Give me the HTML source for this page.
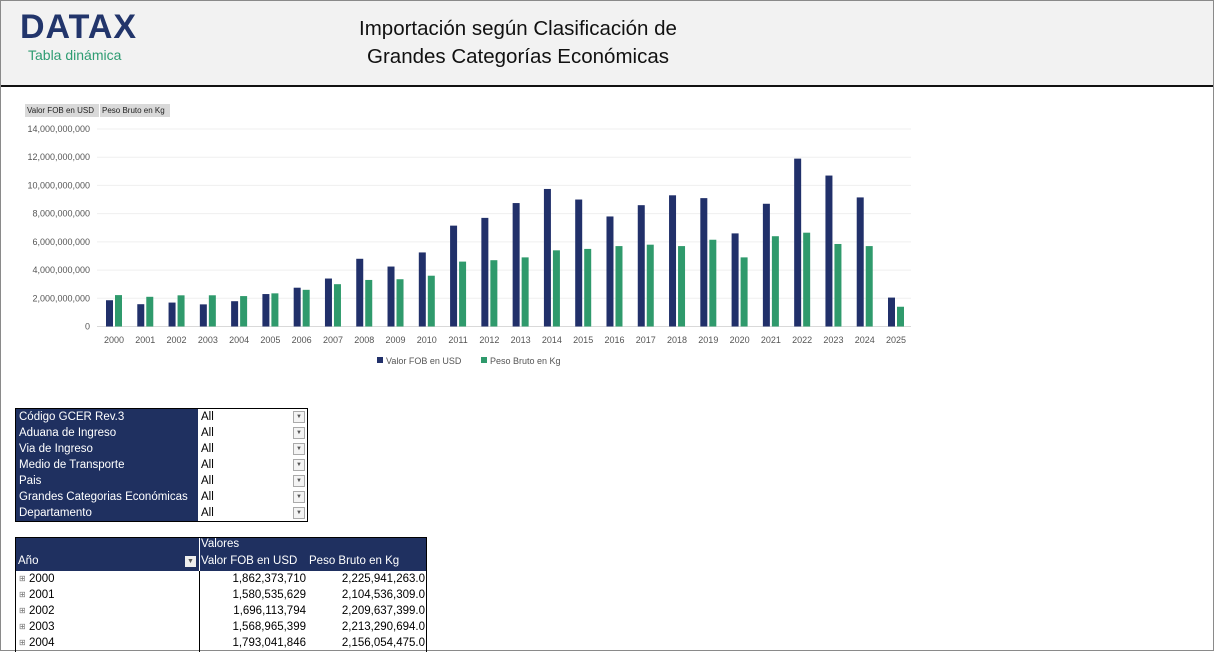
<!DOCTYPE html>
<html><head><meta charset="utf-8"><style>
body{margin:0;width:1214px;height:651px;overflow:hidden;background:#fff;font-family:"Liberation Sans",sans-serif;position:relative}
.frame{position:absolute;left:0;top:0;width:1212px;height:649px;border:1px solid #8a8a8a}
.hdr{position:absolute;left:1px;top:1px;width:1212px;height:84px;background:#f2f2f2;border-bottom:2px solid #111}
.logo{position:absolute;left:19px;top:7px;font-size:34px;font-weight:bold;color:#22356b;letter-spacing:1px}
.sub{position:absolute;left:27px;top:46px;font-size:14px;color:#2e9c72}
.title{position:absolute;left:297px;top:14px;width:440px;text-align:center;font-size:20.5px;line-height:28px;color:#111}
.tab{position:absolute;top:104px;height:13px;background:#d9d9d9;font-size:8px;line-height:13px;padding:0 2px;color:#222;white-space:nowrap}
table{border-collapse:collapse;position:absolute;font-size:11.5px;table-layout:fixed}
.flt td{height:16px;padding:0 0 0 3px;line-height:16px;white-space:nowrap;overflow:hidden}
.flt .k{background:#1f3060;color:#fff;width:179px}
.flt .v{background:#fff;color:#000;width:106px;position:relative}
.dd{position:absolute;right:2px;top:2px;width:10px;height:10px;border:1px solid #aaa;background:#f4f4f4;font-size:6px;line-height:10px;text-align:center;color:#555}
</style></head><body>
<div class="frame"></div>
<div class="hdr">
<div class="logo">DATAX</div>
<div class="sub">Tabla dinámica</div>
<div class="title">Importación según Clasificación de<br>Grandes Categorías Económicas</div>
</div>
<div class="tab" style="left:25px;width:70px">Valor FOB en USD</div>
<div class="tab" style="left:100px;width:66px">Peso Bruto en Kg</div>
<svg id="chart" width="1214" height="380" style="position:absolute;left:0;top:0"></svg>
<table class="flt" style="left:15px;top:408px;border:1px solid #000">
<tr><td class="k">Código GCER Rev.3</td><td class="v">All<span class="dd">▼</span></td></tr>
<tr><td class="k">Aduana de Ingreso</td><td class="v">All<span class="dd">▼</span></td></tr>
<tr><td class="k">Via de Ingreso</td><td class="v">All<span class="dd">▼</span></td></tr>
<tr><td class="k">Medio de Transporte</td><td class="v">All<span class="dd">▼</span></td></tr>
<tr><td class="k">Pais</td><td class="v">All<span class="dd">▼</span></td></tr>
<tr><td class="k">Grandes Categorias Económicas</td><td class="v">All<span class="dd">▼</span></td></tr>
<tr><td class="k">Departamento</td><td class="v">All<span class="dd">▼</span></td></tr>
</table>
<div style="position:absolute;left:15px;top:537px;width:410px;height:114px;border:1px solid #000;border-bottom:none;font-size:11.5px">
<div style="position:absolute;left:0;top:0;width:410px;height:33px;background:#1f3060;color:#fff">
<div style="position:absolute;left:183px;top:0;height:33px;border-left:1px solid #fff"></div>
<div style="position:absolute;left:184px;top:0px;padding-left:1px">Valores</div>
<div style="position:absolute;left:2px;top:17px">Año</div>
<div style="position:absolute;left:169px;top:18px;width:11px;height:11px;background:#eee;color:#555;font-size:7px;line-height:11px;text-align:center">▼</div>
<div style="position:absolute;left:184px;top:17px;padding-left:1px">Valor FOB en USD</div>
<div style="position:absolute;left:293px;top:17px">Peso Bruto en Kg</div>
</div>
<div style="position:absolute;left:183px;top:33px;height:81px;border-left:1px solid #000"></div>
<div id="rows"></div>
</div>
<script>
const years=["2000","2001","2002","2003","2004","2005","2006","2007","2008","2009","2010","2011","2012","2013","2014","2015","2016","2017","2018","2019","2020","2021","2022","2023","2024","2025"];
const fob=[1.862,1.581,1.696,1.569,1.793,2.3,2.75,3.4,4.8,4.25,5.25,7.15,7.7,8.75,9.75,9.0,7.8,8.6,9.3,9.1,6.6,8.7,11.9,10.7,9.15,2.05];
const peso=[2.226,2.105,2.210,2.213,2.156,2.35,2.6,3.0,3.3,3.35,3.6,4.6,4.7,4.9,5.4,5.5,5.7,5.8,5.7,6.15,4.9,6.4,6.65,5.85,5.7,1.4];
const ticks=[0,2,4,6,8,10,12,14];
const tickLabels=["0","2,000,000,000","4,000,000,000","6,000,000,000","8,000,000,000","10,000,000,000","12,000,000,000","14,000,000,000"];
const pivotYears=["2000","2001","2002","2003","2004"];
const pivotFob=["1,862,373,710","1,580,535,629","1,696,113,794","1,568,965,399","1,793,041,846"];
const pivotPeso=["2,225,941,263.0","2,104,536,309.0","2,209,637,399.0","2,213,290,694.0","2,156,054,475.0"];
const NS="http://www.w3.org/2000/svg";
const svg=document.getElementById('chart');
const y=v=>326.5-v*(197.5/14);
const x=i=>114+i*31.28;
function mk(t,a){const e=document.createElementNS(NS,t);for(const k in a)e.setAttribute(k,a[k]);svg.appendChild(e);return e;}
ticks.forEach((t,i)=>{
const l=mk('line',{x1:97,x2:911,y1:y(t),y2:y(t),stroke:i==0?'#d9d9d9':'#efefef','stroke-width':1});


const tx=mk('text',{x:90,y:y(t)+3,'text-anchor':'end','font-size':9,fill:'#555','font-family':'Liberation Sans, sans-serif'});
tx.textContent=tickLabels[i];


});
years.forEach((yr,i)=>{
const b1=mk('rect',{x:x(i)-8,y:y(fob[i]),width:7,height:y(0)-y(fob[i]),fill:'#21306a'});


const b2=mk('rect',{x:x(i)+1,y:y(peso[i]),width:7,height:y(0)-y(peso[i]),fill:'#2f9a6c'});


const t=mk('text',{x:x(i),y:343,'text-anchor':'middle','font-size':9,fill:'#555','font-family':'Liberation Sans, sans-serif'});
t.textContent=yr;


});
const lg=[["Valor FOB en USD","#21306a",377],["Peso Bruto en Kg","#2f9a6c",481]];
lg.forEach(d=>{
const r=mk('rect',{x:d[2],y:357,width:6,height:6,fill:d[1]});


const t=mk('text',{x:d[2]+9,y:364,'font-size':9,fill:'#555','font-family':'Liberation Sans, sans-serif'});
t.textContent=d[0];


});
const rows=document.getElementById('rows');
pivotYears.forEach((yr,i)=>{
const d=document.createElement('div');
d.style.cssText='position:absolute;left:0;top:'+(33+i*16)+'px;width:410px;height:16px;line-height:16px';
d.innerHTML='<span style="position:absolute;left:3px;font-size:8px;color:#777">⊞</span><span style="position:absolute;left:13px">'+yr+'</span><span style="position:absolute;right:120px">'+pivotFob[i]+'</span><span style="position:absolute;right:1px">'+pivotPeso[i]+'</span>';


rows.appendChild(d);
});
</script>
</body></html>
